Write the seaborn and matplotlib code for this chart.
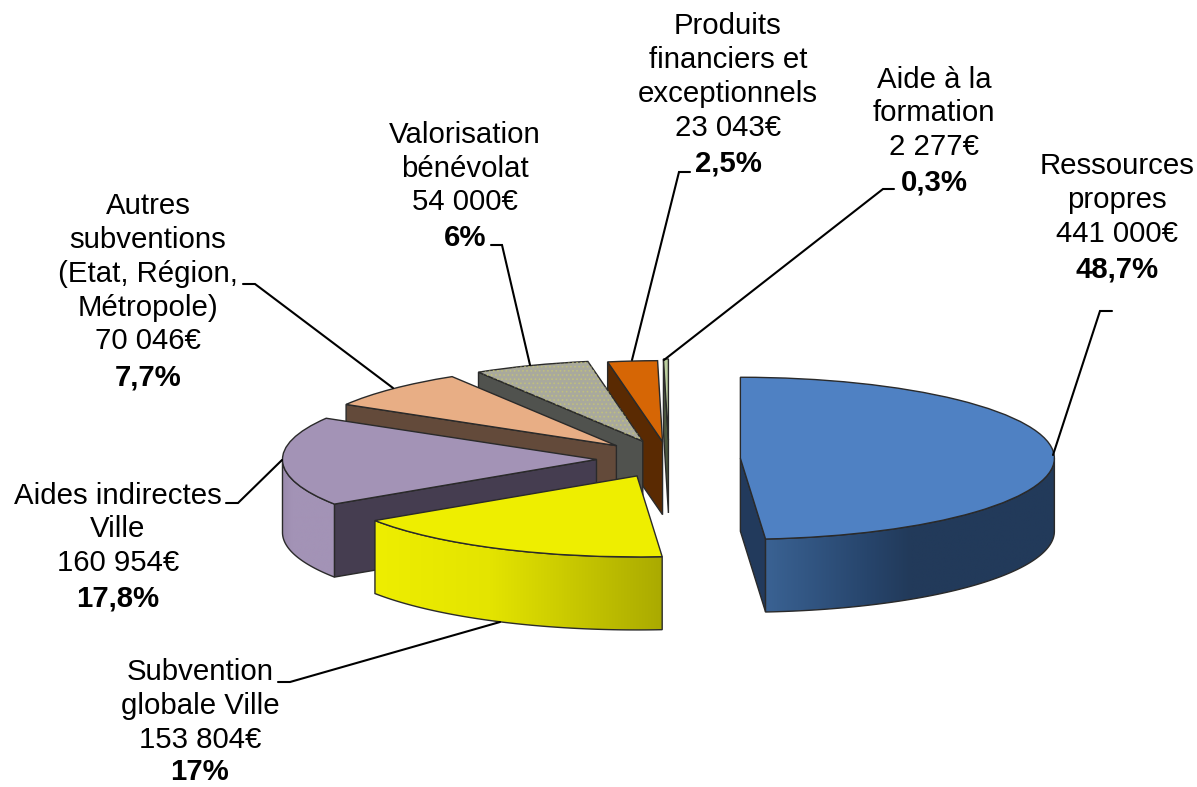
import numpy as np
import matplotlib
matplotlib.use("Agg")
import matplotlib.pyplot as plt
from matplotlib.colors import LinearSegmentedColormap
from matplotlib.patches import Polygon, Wedge
import seaborn as sns

# ---- data ----
names = [
    ["Ressources", "propres"],
    ["Subvention", "globale Ville"],
    ["Aides indirectes", "Ville"],
    ["Autres", "subventions", "(Etat, Région,", "Métropole)"],
    ["Valorisation", "bénévolat"],
    ["Produits", "financiers et", "exceptionnels"],
    ["Aide à la", "formation"],
]
amounts = [441000, 153804, 160954, 70046, 54000, 23043, 2277]
amount_labels = ["441 000€", "153 804€", "160 954€", "70 046€", "54 000€", "23 043€", "2 277€"]
percent_labels = ["48,7%", "17%", "17,8%", "7,7%", "6%", "2,5%", "0,3%"]

# ---- style ----
explode = [0.2275, 0.2325, 0.231, 0.235, 0.235, 0.215, 0.235]
top_colors = sns.color_palette(["#4f81c3", "#eeee00", "#a393b6", "#e8ae85", "#a9a99d", "#d66605", "#bdd09f"])
face_colors = ["#223a5c", "#aaaa00", "#453d50", "#634a3a", "#50524e", "#5a2a02", "#4e5a40"]
wall_stops = [
    [(0, "#3a6293"), (0.35, "#27456c"), (0.5, "#223a5a"), (1, "#223a5a")],
    [(0, "#eeee00"), (0.4, "#e4e400"), (1, "#aaaa00")],
    [(0, "#9a8aac"), (0.2, "#a393b6"), (1, "#a393b6")],
    None, None, None, None,
]
LINE = "#2a2a2a"
W, H = 1197, 787
CX, CY, RX, RY = 669, 459, 314, 81
DEPTH = 73 / RY

sns.set_theme(style="white")
plt.rcParams["font.family"] = ["Liberation Sans", "DejaVu Sans"]
plt.rcParams["hatch.linewidth"] = 0.8

fig = plt.figure(figsize=(W / 100, H / 100), dpi=100)
ax = fig.add_axes([0, 0, 1, 1])
wedges, _ = ax.pie(amounts, explode=explode, startangle=90, counterclock=False,
                   colors=top_colors, radius=1, center=(0, 0),
                   wedgeprops=dict(edgecolor=LINE, linewidth=1.0))
ax.set_aspect("auto")
ax.set_xlim(-CX / RX, (W - CX) / RX)
ax.set_ylim((CY - H) / RY, CY / RY)
ax.set_autoscale_on(False)
ax.axis("off")

# painter's order: back slices first, blue and yellow last
order = [6, 5, 4, 3, 2, 1, 0]
z = 1
for i in order:
    w = wedges[i]
    c = np.array(w.center)
    t1, t2 = w.theta1, w.theta2

    def edge(t):
        return c + np.array([np.cos(np.radians(t)), np.sin(np.radians(t))])

    # cut faces turned toward the viewer
    for t, normal in ((t2, t2 + 90), (t1, t1 - 90)):
        if np.sin(np.radians(normal)) < -1e-6:
            p = edge(t)
            poly = [c, p, p - [0, DEPTH], c - [0, DEPTH]]
            ax.add_patch(Polygon(poly, closed=True, facecolor=face_colors[i],
                                 edgecolor=LINE, linewidth=1.0, zorder=z))
            z += 1

    # outer wall: the part of the rim that faces the viewer
    lo, hi = max(t1, -180), min(t2, 0)
    if hi > lo:
        ts = np.radians(np.linspace(lo, hi, 120))
        top = np.c_[c[0] + np.cos(ts), c[1] + np.sin(ts)]
        bottom = top - [0, DEPTH]
        pts = np.vstack([top, bottom[::-1]])
        stops = wall_stops[i]
        if stops is not None:
            cmap = LinearSegmentedColormap.from_list(f"wall{i}", stops)
            im = ax.imshow(np.linspace(0, 1, 256)[None, :], cmap=cmap, aspect="auto",
                           extent=(pts[:, 0].min(), pts[:, 0].max(), pts[:, 1].min(), pts[:, 1].max()),
                           interpolation="bilinear", zorder=z)
            z += 1
            outline = Polygon(pts, closed=True, facecolor="none", edgecolor=LINE,
                              linewidth=1.0, zorder=z)
            ax.add_patch(outline)
            im.set_clip_path(outline)
        else:
            ax.add_patch(Polygon(pts, closed=True, facecolor=face_colors[i],
                                 edgecolor=LINE, linewidth=1.0, zorder=z))
        z += 1

    w.set_zorder(z)
    z += 1
    if i == 4:  # speckled surface of the "Valorisation" slice
        ax.add_patch(Wedge(w.center, w.r, t1, t2, facecolor="none", edgecolor="#c8c870",
                           hatch="....", linewidth=0, zorder=z, alpha=0.6))
        z += 1

# ---- labels and leader lines, in a pixel-based overlay ----
ov = fig.add_axes([0, 0, 1, 1], facecolor="none")
ov.set_xlim(0, W)
ov.set_ylim(H, 0)
ov.axis("off")

FS = 21.2
STEP = 33.7
label_pos = [(1117, 166.5), (200, 672.5), (118, 495.5), (148, 206.5), (465, 135), (728, 26.5), (934, 79.5)]
bold_gap = [36, 32, 36, 36, 36, 36, 36]
for i, (x, y) in enumerate(label_pos):
    lines = names[i] + [amount_labels[i]]
    for k, s in enumerate(lines):
        ov.text(x, y + k * STEP, s, ha="center", va="center", fontsize=FS, color="black")
    ov.text(x, y + (len(lines) - 1) * STEP + bold_gap[i], percent_labels[i], ha="center", va="center",
            fontsize=FS, fontweight="bold", color="black")

leaders = [
    [(1112, 311), (1100, 311), (1053, 455)],
    [(278, 682), (290, 682), (500, 622)],
    [(226, 503), (238, 503), (282, 460)],
    [(243, 284), (255, 284), (393, 388)],
    [(491, 245), (502, 245), (530, 365)],
    [(690, 172), (679, 172), (632, 360)],
    [(894, 189), (883, 189), (664, 360)],
]
for pts in leaders:
    xs, ys = zip(*pts)
    ov.plot(xs, ys, color="black", lw=1.5, solid_joinstyle="miter")

fig.savefig("out.png", dpi=100, facecolor="white")
